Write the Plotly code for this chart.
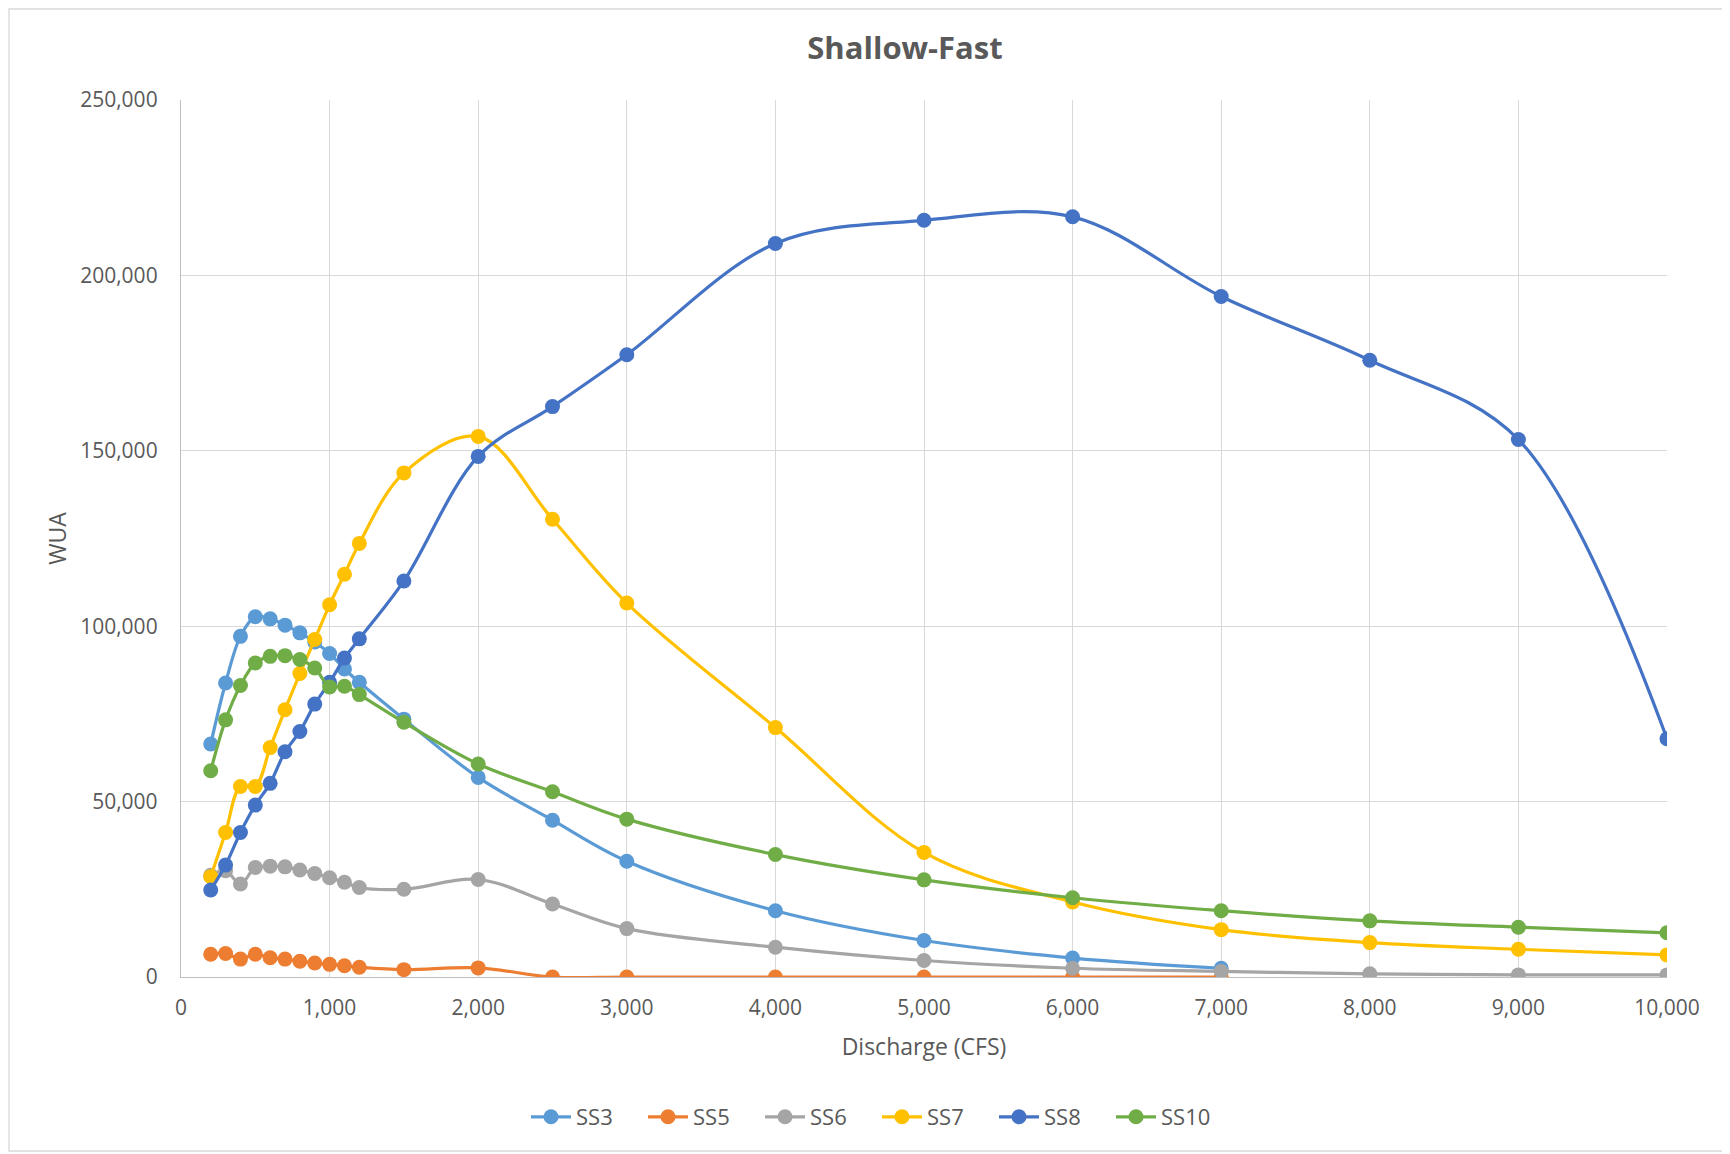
import plotly.graph_objects as go

discharge = [200, 300, 400, 500, 600, 700, 800, 900, 1000, 1100, 1200, 1500,
             2000, 2500, 3000, 4000, 5000, 6000, 7000, 8000, 9000, 10000]

ss3 = [66400, 83800, 97100, 102700, 102100, 100300, 98100, 95500, 92200, 87800,
       84000, 73500, 56900, 44700, 33000, 18900, 10400, 5400, 2500]
ss5 = [6500, 6700, 5100, 6500, 5500, 5100, 4500, 4000, 3600, 3200,
       2800, 2100, 2600, 0, 0, 0, 0, 0, 0]
ss6 = [29000, 30300, 26500, 31200, 31600, 31400, 30500, 29500, 28300, 27000,
       25500, 25000, 27800, 20800, 13800, 8500, 4700, 2500, 1600, 900, 600, 600]
ss7 = [28600, 41200, 54300, 54300, 65400, 76200, 86500, 96200, 106100, 114800,
       123600, 143700, 154100, 130500, 106600, 71100, 35500, 21400, 13500, 9800,
       7900, 6300]
ss8 = [24800, 31900, 41200, 49000, 55200, 64200, 70000, 77800, 84000, 90900,
       96400, 112900, 148400, 162600, 177400, 209100, 215700, 216700, 194000,
       175800, 153200, 67900]
ss10 = [58800, 73300, 83100, 89500, 91400, 91600, 90500, 88100, 82700, 82900,
        80500, 72600, 60700, 52800, 45000, 34900, 27700, 22600, 18900, 16000,
        14200, 12600]

series = [
    ("SS3", ss3, "#5B9BD5"),
    ("SS5", ss5, "#ED7D31"),
    ("SS6", ss6, "#A5A5A5"),
    ("SS7", ss7, "#FFC000"),
    ("SS8", ss8, "#4472C4"),
    ("SS10", ss10, "#70AD47"),
]

FONT = "Open Sans"
TXT = "#595959"

fig = go.Figure()
for name, vals, col in series:
    fig.add_trace(go.Scatter(
        x=discharge[:len(vals)], y=vals, name=name, mode="lines+markers",
        line=dict(color=col, width=3.2, shape="spline", smoothing=1),
        marker=dict(color=col, size=15),
    ))

# page body has an 8px margin, so the figure is placed 8px in from the window
OFF = 8
W, H = 1730 - OFF, 1154 - OFF
L, T = 181 - OFF, 100 - OFF
R, B = W - (1667 - OFF), H - (977 - OFF)
pw, ph = W - L - R, H - T - B

def px_x(p):
    return (p - OFF - L) / pw

def px_y(p):
    return (H - B - (p - OFF)) / ph

fig.update_layout(
    width=W, height=H,
    margin=dict(l=L, r=R, t=T, b=B),
    paper_bgcolor="white", plot_bgcolor="white",
    font=dict(family=FONT, color=TXT, size=21),
    title=dict(text="<b>Shallow-Fast</b>", x=px_x(905), xref="paper",
               xanchor="center", y=1 - (48 - OFF) / H, yanchor="middle",
               font=dict(size=31, color=TXT, family=FONT)),
    xaxis=dict(range=[0, 10000], tickvals=list(range(0, 10001, 1000)),
               tickformat=",d", showgrid=True, gridcolor="#D9D9D9", gridwidth=1.3,
               zeroline=False, showline=True, linecolor="#BFBFBF", linewidth=1.3,
               ticks="", ticklabelstandoff=12,
               title=dict(text="Discharge (CFS)", font=dict(size=23, color=TXT),
                          standoff=18),
               tickfont=dict(size=21, color=TXT)),
    yaxis=dict(range=[0, 250000], tickvals=list(range(0, 250001, 50000)),
               tickformat=",d", showgrid=True, gridcolor="#D9D9D9", gridwidth=1.3,
               zeroline=False, showline=True, linecolor="#BFBFBF", linewidth=1.3,
               ticks="", ticklabelstandoff=18,
               title=dict(text="WUA", font=dict(size=23, color=TXT), standoff=7),
               tickfont=dict(size=21, color=TXT)),
    legend=dict(orientation="h", x=px_x(877), xanchor="center",
                y=px_y(1117), yanchor="middle",
                font=dict(size=22, color=TXT), entrywidth=62,
                itemwidth=40, bgcolor="rgba(0,0,0,0)"),
    showlegend=True,
)

fig.add_shape(type="rect", xref="paper", yref="paper",
              x0=px_x(OFF + 1), x1=px_x(1727), y0=px_y(1151), y1=px_y(OFF + 1),
              line=dict(color="#D9D9D9", width=1.3), fillcolor="rgba(0,0,0,0)",
              layer="below")

fig.write_html("out.html")
